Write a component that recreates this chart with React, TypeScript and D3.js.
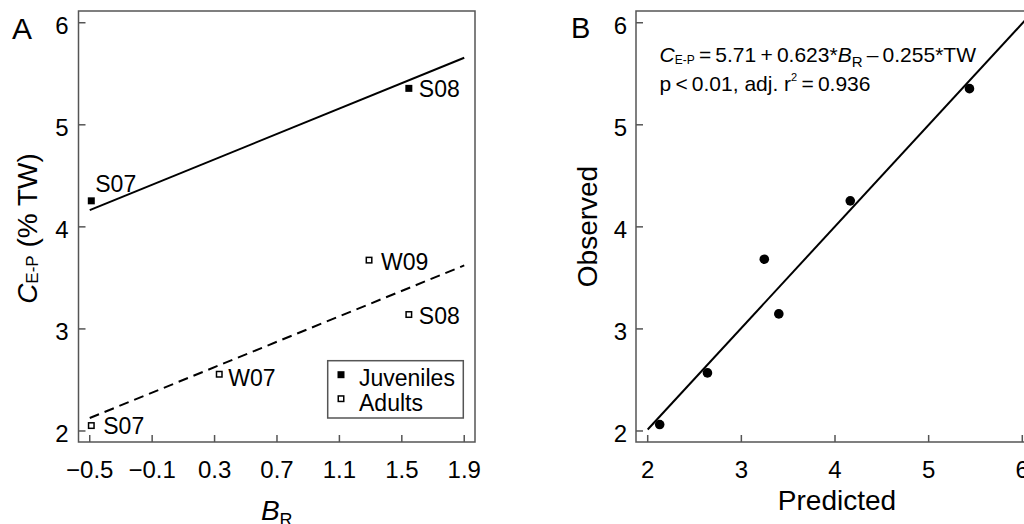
import React from "react";
import * as d3 from "d3";

// ---- data ----
const juvLabels = ["S07", "S08"];
const juvBR = [-0.49, 1.545];
const juvC = [4.255, 5.357];

const adultLabels = ["S07", "W07", "W09", "S08"];
const adultBR = [-0.49, 0.33, 1.29, 1.545];
const adultC = [2.053, 2.556, 3.674, 3.141];

const juvFitX = [-0.5, 1.9];
const juvFitY = [4.164, 5.657];
const adultFitX = [-0.5, 1.9];
const adultFitY = [2.127, 3.622];

const predicted = [2.128, 2.638, 3.245, 3.4, 4.163, 5.436];
const observed = [2.063, 2.569, 3.683, 3.147, 4.255, 5.354];
const fitBX = [2.0, 6.125];
const fitBY = [2.014, 6.118];

const xTicksA = [-0.5, -0.1, 0.3, 0.7, 1.1, 1.5, 1.9];
const yTicks = [2, 3, 4, 5, 6];
const xTicksB = [2, 3, 4, 5, 6];

// label offsets (style)
const juvOff: [number, number][] = [[4, -9], [10, 8.5]];
const adultOff: [number, number][] = [[12, 8.5], [9, 11.5], [12, 10], [10, 9]];

const FONT = "'Liberation Sans', Arial, Helvetica, sans-serif";
const AXIS = "#555";
const TS = "\u2009";

export default function App() {
  const W = 1024, H = 524;
  const A = { l: 78.5, r: 475, t: 11, b: 442 };
  const B = { l: 636, r: 1034, t: 11, b: 442 };

  const xA = d3.scaleLinear().domain([-0.572, 1.969]).range([A.l, A.r]);
  const yA = d3.scaleLinear().domain([1.892, 6.115]).range([A.b, A.t]);
  const xB = d3.scaleLinear().domain([1.875, 6.125]).range([B.l, B.r]);
  const yB = yA;

  const line = d3.line<[number, number]>();
  const fmtA = (v: number) => d3.format(".1f")(v);
  const tickLen = 7;
  const tickFs = 24;

  const juvLine = line(juvFitX.map((x, i) => [xA(x), yA(juvFitY[i])] as [number, number]));
  const adultLine = line(adultFitX.map((x, i) => [xA(x), yA(adultFitY[i])] as [number, number]));
  const bLine = line(fitBX.map((x, i) => [xB(x), yB(fitBY[i])] as [number, number]));

  const sq = 7;

  return (
    <svg width={W} height={H} style={{ position: "absolute", left: 0, top: 0, background: "#fff" }} fontFamily={FONT}>
      <defs>
        <clipPath id="clipA"><rect x={A.l} y={A.t} width={A.r - A.l} height={A.b - A.t} /></clipPath>
        <clipPath id="clipB"><rect x={B.l} y={B.t} width={B.r - B.l} height={B.b - B.t} /></clipPath>
      </defs>

      {/* ===== Panel A ===== */}
      <text x={12} y={39} fontSize={30}>A</text>
      {xTicksA.map((t) => (
        <g key={"xa" + t}>
          <line x1={xA(t)} x2={xA(t)} y1={A.b} y2={A.b - tickLen} stroke={AXIS} strokeWidth={1.5} />
          <text x={xA(t)} y={478} fontSize={tickFs} textAnchor="middle">{fmtA(t)}</text>
        </g>
      ))}
      {yTicks.map((t) => (
        <g key={"ya" + t}>
          <line x1={A.l} x2={A.l + tickLen} y1={yA(t)} y2={yA(t)} stroke={AXIS} strokeWidth={1.5} />
          <text x={A.l - 10} y={yA(t) + 11} fontSize={tickFs} textAnchor="end">{t}</text>
        </g>
      ))}
      <rect x={A.l} y={A.t} width={A.r - A.l} height={A.b - A.t} fill="none" stroke={AXIS} strokeWidth={1.5} />

      <g clipPath="url(#clipA)">
        <path d={juvLine || ""} stroke="#000" strokeWidth={2} fill="none" />
        <path d={adultLine || ""} stroke="#000" strokeWidth={2} fill="none" strokeDasharray="10,6" />
      </g>

      {juvBR.map((x, i) => (
        <g key={"j" + i}>
          <rect x={xA(x) - sq / 2} y={yA(juvC[i]) - sq / 2} width={sq} height={sq} fill="#000" />
          <text x={xA(x) + juvOff[i][0]} y={yA(juvC[i]) + juvOff[i][1]} fontSize={23}>{juvLabels[i]}</text>
        </g>
      ))}
      {adultBR.map((x, i) => (
        <g key={"a" + i}>
          <rect x={xA(x) - sq / 2 + 0.75} y={yA(adultC[i]) - sq / 2 + 0.75} width={sq - 1.5} height={sq - 1.5} fill="#fff" stroke="#000" strokeWidth={1.5} />
          <text x={xA(x) + adultOff[i][0]} y={yA(adultC[i]) + adultOff[i][1]} fontSize={23}>{adultLabels[i]}</text>
        </g>
      ))}

      {/* legend */}
      <rect x={327.7} y={360.7} width={135.6} height={57.3} fill="#fff" stroke={AXIS} strokeWidth={1.5} />
      <rect x={341 - sq / 2} y={374.7 - sq / 2} width={sq} height={sq} fill="#000" />
      <rect x={341 - sq / 2 + 0.75} y={398.7 - sq / 2 + 0.75} width={sq - 1.5} height={sq - 1.5} fill="#fff" stroke="#000" strokeWidth={1.5} />
      <text x={359} y={385.5} fontSize={23}>Juveniles</text>
      <text x={359} y={410.5} fontSize={23}>Adults</text>

      {/* axis titles A */}
      <text x={(A.l + A.r) / 2} y={520} fontSize={28} textAnchor="middle">
        <tspan fontStyle="italic">B</tspan>
        <tspan fontSize={18} dy={6}>R</tspan>
      </text>
      <text transform={`translate(37,${(A.t + A.b) / 2 + 2}) rotate(-90)`} fontSize={28} textAnchor="middle">
        <tspan fontStyle="italic">C</tspan>
        <tspan fontSize={17} dy={1}>E-P</tspan>
        <tspan dy={-1}> (% TW)</tspan>
      </text>

      {/* ===== Panel B ===== */}
      <text x={571} y={38} fontSize={29}>B</text>
      {xTicksB.map((t) => (
        <g key={"xb" + t}>
          <line x1={xB(t)} x2={xB(t)} y1={B.b} y2={B.b - tickLen} stroke={AXIS} strokeWidth={1.5} />
          <text x={xB(t)} y={478} fontSize={tickFs} textAnchor="middle">{t}</text>
        </g>
      ))}
      {yTicks.map((t) => (
        <g key={"yb" + t}>
          <line x1={B.l} x2={B.l + tickLen} y1={yB(t)} y2={yB(t)} stroke={AXIS} strokeWidth={1.5} />
          <text x={B.l - 9} y={yB(t) + 11} fontSize={tickFs} textAnchor="end">{t}</text>
        </g>
      ))}
      <rect x={B.l} y={B.t} width={B.r - B.l} height={B.b - B.t} fill="none" stroke={AXIS} strokeWidth={1.5} />
      <g clipPath="url(#clipB)">
        <path d={bLine || ""} stroke="#000" strokeWidth={2} fill="none" />
      </g>
      {predicted.map((p, i) => (
        <circle key={"b" + i} cx={xB(p)} cy={yB(observed[i])} r={4.8} fill="#000" />
      ))}

      <text x={659.5} y={61.7} fontSize={21}>
        <tspan fontStyle="italic">C</tspan>
        <tspan fontSize={12} dy={2}>E-P</tspan>
        <tspan dy={-2}>{`${TS}=${TS}5.71${TS}+${TS}0.623*`}</tspan>
        <tspan fontStyle="italic">B</tspan>
        <tspan fontSize={15} dy={5}>R</tspan>
        <tspan dy={-5}>{`${TS}–${TS}0.255*TW`}</tspan>
      </text>
      <text x={659.5} y={90.7} fontSize={21}>
        <tspan>{`p${TS}<${TS}0.01, adj. r`}</tspan>
        <tspan fontSize={11} dy={-10}>2</tspan>
        <tspan dy={10}>{`${TS}=${TS}0.936`}</tspan>
      </text>

      <text x={837} y={510} fontSize={28} textAnchor="middle">Predicted</text>
      <text transform={`translate(597,${(B.t + B.b) / 2}) rotate(-90)`} fontSize={28} textAnchor="middle">Observed</text>
    </svg>
  );
}
